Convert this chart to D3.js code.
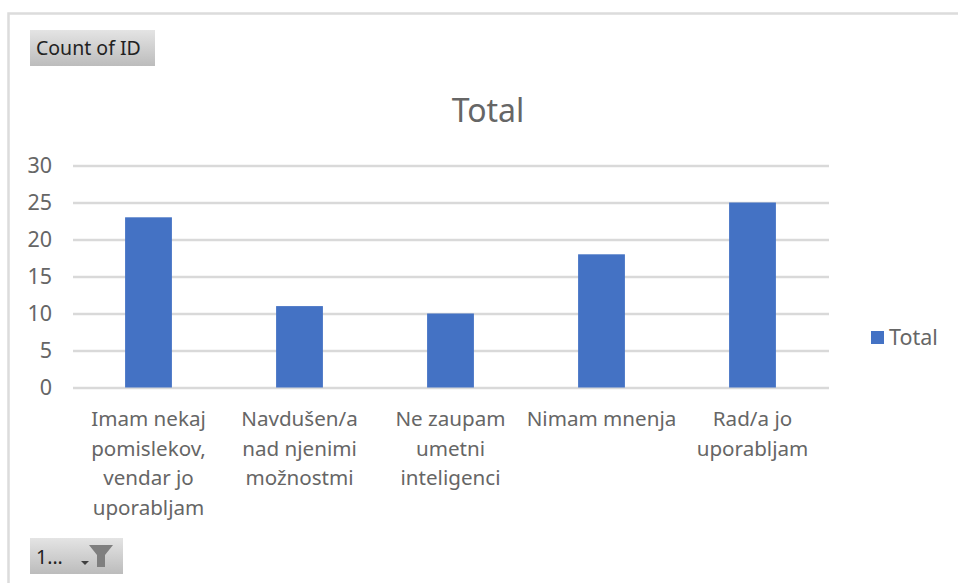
<!DOCTYPE html>
<html><head><meta charset="utf-8">
<script src="https://cdn.jsdelivr.net/npm/d3@7"></script>
<style>html,body{margin:0;padding:0;background:#fff;overflow:hidden}svg{display:block}text{font-family:"Noto Sans","Open Sans",sans-serif}</style>
</head><body><svg id="c" width="958" height="583"></svg>
<script>
const categories = ["Imam nekaj pomislekov, vendar jo uporabljam","Navdušen/a nad njenimi možnostmi","Ne zaupam umetni inteligenci","Nimam mnenja","Rad/a jo uporabljam"];
const categoryLines = [["Imam nekaj","pomislekov,","vendar jo","uporabljam"],["Navdušen/a","nad njenimi","možnostmi"],["Ne zaupam","umetni","inteligenci"],["Nimam mnenja"],["Rad/a jo","uporabljam"]];
const values = [23,11,10,18,25];
const yTicks = [0,5,10,15,20,25,30];
const seriesName = "Total";
const fieldButton = "Count of ID";
const filterButton = "1...";

const svg = d3.select("#c");
const grey = "#666666", blue = "#4472c4", grid = "#d9d9d9";
const x = d3.scaleBand().domain(categories).range([73,828]).paddingInner(0.69).paddingOuter(0.345);
const y = d3.scaleLinear().domain([0,30]).range([387.5,165.5]);

const defs = svg.append("defs");
const g = defs.append("linearGradient").attr("id","btn").attr("x1",0).attr("x2",0).attr("y1",0).attr("y2",1);
g.append("stop").attr("offset",0).attr("stop-color","#e4e4e4");
g.append("stop").attr("offset",1).attr("stop-color","#bcbcbc");

// outer chart frame
svg.append("path").attr("d","M8.5,583V13.5H958").attr("fill","none").attr("stroke","#dcdcdc").attr("stroke-width",2.5);

// field buttons
svg.append("rect").attr("x",30).attr("y",30).attr("width",125).attr("height",36).attr("fill","url(#btn)");
svg.append("text").attr("x",36).attr("y",55).attr("font-size",19.5).attr("fill","#222").text(fieldButton);
svg.append("rect").attr("x",30).attr("y",538).attr("width",93).attr("height",36).attr("fill","url(#btn)");
svg.append("text").attr("x",36).attr("y",564).attr("font-size",19.5).attr("fill","#222").text(filterButton);
svg.append("path").attr("d","M81,561h8l-4,4z").attr("fill","#404040");
svg.append("path").attr("d","M89,545h24l-8,10v12h-8v-12z").attr("fill","#7f7f7f");

// title
svg.append("text").attr("x",488).attr("y",122).attr("text-anchor","middle").attr("font-size",32).attr("fill",grey).text(seriesName);

// y axis with gridlines
const yAxis = svg.append("g").attr("transform","translate(73,0)")
  .call(d3.axisLeft(y).tickValues(yTicks).tickSize(-756).tickPadding(21));
yAxis.select(".domain").remove();
yAxis.selectAll("line").attr("stroke",grid).attr("stroke-width",2.5);
yAxis.selectAll("text").attr("font-size",21.5).attr("fill",grey);

// bars
svg.selectAll("rect.bar").data(values).join("rect").attr("class","bar")
  .attr("x",(d,i)=>x(categories[i])).attr("width",x.bandwidth())
  .attr("y",d=>y(d)).attr("height",d=>y(0)-y(d)).attr("fill",blue);

// category labels
const xl = svg.append("g");
categories.forEach((c,i)=>{
  const t = xl.append("text").attr("text-anchor","middle").attr("font-size",20.6).attr("fill",grey);
  categoryLines[i].forEach((l,j)=>t.append("tspan").attr("x",x(c)+x.bandwidth()/2).attr("y",426+j*29.6).text(l));
});

// legend
svg.append("rect").attr("x",871).attr("y",331).attr("width",13).attr("height",13).attr("fill",blue);
svg.append("text").attr("x",889).attr("y",345).attr("font-size",21.5).attr("fill",grey).text(seriesName);
</script></body></html>
